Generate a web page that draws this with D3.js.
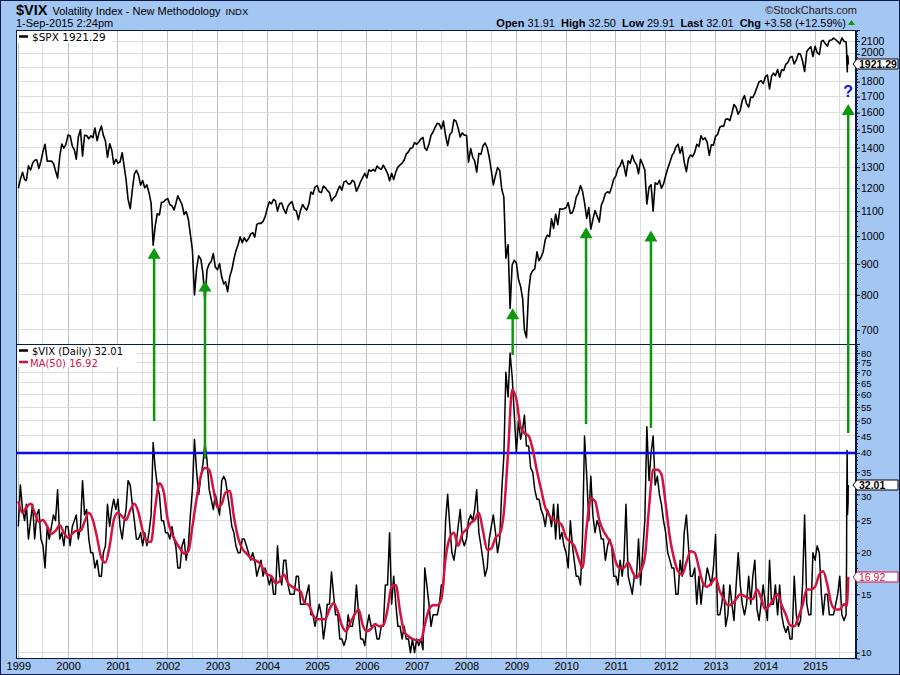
<!DOCTYPE html>
<html><head><meta charset="utf-8">
<script src="https://cdn.jsdelivr.net/npm/d3@7/dist/d3.min.js"></script>
<style>body{margin:0;background:#a3c6f2}svg{display:block}</style>
</head><body>
<svg id="c" width="900" height="675"></svg>
<script>
// ---------- DATA (semi-monthly: 1st & 16th of each month from Jan 1999) ----------
const spx = [
1200,1240,1275,1240,1236,1307,1286,1320,1335,1337,1294,1330,1380,1418,1330,1330,1331,1318,1282,1247,1354,1420,1397,1418,
1469,1465,1409,1388,1340,1458,1499,1356,1468,1466,1448,1465,1454,1509,1438,1484,1520,1467,1436,1350,1421,1389,1315,1340,
1320,1326,1373,1301,1241,1150,1110,1191,1266,1284,1260,1214,1236,1202,1215,1181,1134,966,1040,1089,1084,1138,1139,1148,
1154,1128,1122,1105,1131,1166,1146,1128,1086,1098,1067,1007,948,800,885,928,916,869,780,880,900,909,936,889,
880,901,856,834,841,810,858,880,916,946,968,998,975,994,980,990,1008,1014,996,1046,1050,1050,1058,1076,
1112,1140,1131,1150,1144,1100,1132,1134,1107,1090,1121,1133,1140,1106,1101,1065,1104,1128,1114,1104,1130,1183,1173,1205,
1212,1184,1181,1210,1203,1190,1180,1143,1156,1165,1191,1210,1191,1228,1234,1220,1220,1237,1228,1186,1207,1231,1249,1270,
1248,1287,1280,1289,1280,1305,1294,1289,1310,1292,1270,1235,1270,1240,1277,1300,1311,1320,1336,1366,1378,1397,1400,1427,
1418,1431,1448,1456,1399,1386,1420,1468,1486,1512,1536,1532,1503,1549,1465,1411,1473,1485,1557,1549,1508,1458,1481,1468,
1468,1325,1395,1350,1331,1276,1370,1365,1409,1425,1400,1350,1284,1215,1260,1298,1283,1195,1160,920,968,760,896,913,
903,850,826,789,700,680,811,865,877,883,942,911,923,941,987,1004,998,1068,1030,1087,1045,1110,1108,1110,
1115,1136,1090,1094,1115,1160,1178,1212,1187,1135,1070,1115,1027,1065,1102,1080,1055,1125,1146,1176,1184,1178,1206,1242,
1258,1293,1307,1336,1305,1257,1332,1319,1361,1329,1314,1268,1340,1316,1286,1130,1204,1216,1100,1225,1218,1237,1200,1219,
1258,1293,1324,1358,1374,1404,1419,1370,1405,1325,1278,1342,1362,1353,1375,1418,1406,1465,1444,1454,1427,1360,1416,1413,
1462,1472,1513,1520,1518,1560,1562,1552,1597,1650,1631,1590,1614,1676,1706,1655,1633,1697,1695,1721,1762,1798,1806,1786,
1832,1845,1750,1838,1859,1841,1885,1830,1883,1877,1924,1937,1973,1981,1925,1955,2003,1998,1946,1870,2018,2039,2054,1980,
2058,2010,1995,2096,2105,2081,2059,2106,2108,2123,2111,2096,2077,2125,2098,2092];
const vix = [
24,32,27,25,28,22,25,28,22,26,27,22,21,18,24,22,24,26,25,31,22,23,21,24,
24,21,24,25,26,22,24,33,26,27,22,20,20,18,19,17,17,20,21,28,24,27,29,27,
29,24,22,25,27,33,32,28,25,22,22,23,21,23,21,23,26,43,36,32,30,25,25,23,
23,22,24,22,21,18,18,21,22,19,21,26,31,44,35,30,34,37,43,38,31,29,27,30,
28,26,33,34,33,30,27,24,23,21,20,20,22,22,21,20,19,20,19,17,18,19,17,18,
17,16,17,15,15,21,17,16,19,19,16,15,15,15,17,17,14,14,14,15,16,13,13,12,
13,14,13,11,12,14,14,17.5,15,13,13,11,11,10.5,11,13,12,12,13,16,13,11,11,10.5,
12,13,12,12,12,11,11,12,12,16,16,23,14,17,14,12,12,11,12,11,11,10,11,10,
11,10.5,11,10.2,18,16,14,12,13,13,13,14,16,16,25,30,24,20,19,21,24,27,22,21,
22,25,26,25,27,31,23,21,19,17,18,22,24,26,23,20,22,31,39,70,59,80,68,53,
40,50,44,47,52,42,42,36,35,31,29,29,27,26,24,27,26,24,28,22,28,22,23,21,
20,18,25,21,19,17,17,16,22,45,34,25,34,26,23,25,24,22,22,19,21,22,21,17,
17,16,19,17,19,28,17,16,15,17,17,22,16,20,25,48,33,40,45,32,34,30,28,25,
23,20,19,18,18,15,15,19,17,23,26,21,17,17,18,14,17,14,16,16,18,17,16,18,
22.7,13,13,14,16,12,13,16,14,12.5,16,20,16,14,13,14,17,14,17,19,13.5,12.5,14,16,
14,12.5,19,14,14,16,13,16,13,12,11.5,12,11,11,17,13,12,12.5,16,26,14,13,13,20,
19,21,20,15,13,15,15,13,13,13,14,15,17,13,12.5,13];
// final days (daily)
const tailDates = ["2015-08-20","2015-08-21","2015-08-24","2015-08-25","2015-08-27","2015-08-31","2015-09-01"];
const spxTail = [2035,1971,1893,1868,1988,1972,1921.29];
const vixTail = [19.1,28.0,40.7,36.0,26.1,28.4,32.01];
// MA(50) monthly, 1st of month from Jan 1999 to Aug 2015
const ma50 = [
28.6,26.4,27.4,28.1,26.4,24.8,25.1,24.0,22.8,23.3,24.2,23.0,
22.2,22.8,23.3,23.3,24.8,26.4,25.1,22.2,19.3,18.7,21.0,25.1,
26.4,25.7,25.1,26.9,28.1,26.4,23.3,21.6,21.6,27.4,32.4,30.7,
25.1,22.8,21.6,20.6,19.9,20.2,24.0,29.2,34.2,36.0,35.6,31.2,
27.4,28.1,30.4,30.7,25.7,22.2,20.6,19.9,19.3,19.0,18.7,17.9,
17.2,17.0,16.2,16.4,17.2,16.2,15.8,15.5,15.3,14.1,13.9,13.0,
12.6,12.6,12.6,13.5,14.1,13.3,12.1,11.6,12.3,13.0,13.5,12.1,
11.6,11.8,12.2,12.0,12.1,13.5,15.8,16.0,13.3,11.6,11.2,11.0,
10.9,10.9,12.1,13.5,13.9,13.9,14.5,19.3,22.2,23.0,21.0,22.8,
23.5,24.6,25.1,26.4,23.3,20.4,20.6,22.2,22.8,26.4,40.0,62.0,
58.0,47.9,45.9,45.0,41.0,35.3,31.1,27.4,25.8,25.1,24.8,24.2,
22.2,21.6,21.0,19.3,18.0,24.0,29.2,28.6,25.1,23.3,22.2,21.0,
18.7,18.0,18.0,18.7,17.6,16.8,17.6,19.3,27.4,35.6,35.6,34.5,
28.1,22.2,19.3,17.6,17.2,18.7,20.2,20.0,18.0,16.2,15.8,16.2,
16.8,15.3,14.6,13.9,14.0,14.5,15.0,14.8,14.6,14.5,15.5,14.6,
13.5,13.9,14.5,15.0,13.9,13.0,12.1,12.0,12.8,13.9,15.5,15.5,
15.8,17.2,17.6,16.0,14.0,13.5,13.5,14.0];
const maTailDates = ["2015-08-21","2015-09-01"];
const maTail = [13.8,16.92];
const spxTicks = [700,800,900,1000,1100,1200,1300,1400,1500,1600,1700,1800,1900,2000,2100];
const spxTickLabels = [700,800,900,1000,1100,1200,1300,1400,1500,1600,1700,1800,2000,2100];
const vixTicks = [10,15,20,25,30,35,40,45,50,55,60,65,70,75,80];
const yearTicks = d3.range(1999,2016);
const arrowDates = ["2001-09-23","2002-10-01","2008-12-05","2010-05-27","2011-09-15","2015-09-01"];
const arrowTipSpx = [957,845,760,1035,1022,1653];
const arrowTailVix = [49.9,38.4,78.9,48.9,47.6,45.9];
const lastSpx = 1921.29, lastVix = 32.01, lastMa = 16.92, vixLevel = 40;

// ---------- LAYOUT ----------
const W=900,H=675,L=16,R=856,T1=30,B1=344,T2=344,B2=658.5;
const NAVY="#0a1a4a", GRID="#dcdcdc", GRIDY="#bdbdbd", GREEN="#0b990b", RED="#d4123f";
const FONT="Liberation Sans, Arial, sans-serif";
const parse=d3.timeParse("%Y-%m-%d");
const semi=i=>new Date(1999,Math.floor(i/2),i%2?16:1);
const spxData=spx.map((v,i)=>({d:semi(i),v})).concat(spxTail.map((v,i)=>({d:parse(tailDates[i]),v})));
const vixData=vix.map((v,i)=>({d:semi(i),v})).concat(vixTail.map((v,i)=>({d:parse(tailDates[i]),v})));
const maData=ma50.map((v,i)=>({d:new Date(1999,i,1),v})).concat(maTail.map((v,i)=>({d:parse(maTailDates[i]),v})));

const x=d3.scaleTime().domain([new Date(1998,11,15),new Date(2015,9,28)]).range([L,R]);
const y1=d3.scaleLog().domain([663.7,2190]).range([B1,T1]);
const y2=d3.scaleLog().domain([9.6,85.2]).range([B2,T2]);

const svg=d3.select("#c");
svg.append("rect").attr("width",W).attr("height",H).attr("fill","#a3c6f2");
svg.append("rect").attr("x",0.5).attr("y",0.5).attr("width",W-1).attr("height",H-1).attr("fill","none").attr("stroke",NAVY);
svg.append("rect").attr("x",L).attr("y",T1).attr("width",R-L).attr("height",B2-T1).attr("fill","#fff");

const defs=svg.append("defs");
defs.append("clipPath").attr("id","c1").append("rect").attr("x",L).attr("y",T1).attr("width",R-L).attr("height",B1-T1);
defs.append("clipPath").attr("id","c2").append("rect").attr("x",L).attr("y",T2).attr("width",R-L).attr("height",B2-T2);

// grid
const g=svg.append("g");
d3.timeMonth.every(6).range(new Date(1999,0,1),new Date(2015,9,1)).forEach(d=>{
  g.append("line").attr("x1",x(d)).attr("x2",x(d)).attr("y1",T1).attr("y2",B2)
   .attr("stroke",d.getMonth()===0?GRIDY:GRID).attr("stroke-width",1).attr("shape-rendering","crispEdges");
});
spxTicks.forEach(t=>g.append("line").attr("x1",L).attr("x2",R).attr("y1",y1(t)).attr("y2",y1(t)).attr("stroke",GRID).attr("shape-rendering","crispEdges"));
vixTicks.forEach(t=>g.append("line").attr("x1",L).attr("x2",R).attr("y1",y2(t)).attr("y2",y2(t)).attr("stroke",GRID).attr("shape-rendering","crispEdges"));

// series
const line1=d3.line().x(d=>x(d.d)).y(d=>y1(d.v));
const line2=d3.line().x(d=>x(d.d)).y(d=>y2(d.v));
svg.append("path").datum(spxData).attr("clip-path","url(#c1)").attr("d",line1).attr("fill","none").attr("stroke","#000").attr("stroke-width",1.6).attr("stroke-linejoin","round");
svg.append("path").datum(vixData).attr("clip-path","url(#c2)").attr("d",line2).attr("fill","none").attr("stroke","#000").attr("stroke-width",1.5).attr("stroke-linejoin","round");
svg.append("line").attr("x1",L).attr("x2",R).attr("y1",y2(vixLevel)).attr("y2",y2(vixLevel)).attr("stroke","#0a0af0").attr("stroke-width",2.5);
svg.append("path").datum(maData).attr("clip-path","url(#c2)").attr("d",line2.curve(d3.curveMonotoneX)).attr("fill","none").attr("stroke",RED).attr("stroke-width",2.5).attr("stroke-linejoin","round");

// frame
svg.append("rect").attr("x",L+0.5).attr("y",T1+0.5).attr("width",R-L-1).attr("height",B2-T1-0.5).attr("fill","none").attr("stroke",NAVY);
svg.append("line").attr("x1",L).attr("x2",R).attr("y1",B1+0.5).attr("y2",B1+0.5).attr("stroke",NAVY);

// arrows
arrowDates.forEach((ds,i)=>{
  const ax=x(parse(ds)), tip=y1(arrowTipSpx[i]), tail=y2(arrowTailVix[i]);
  svg.append("line").attr("x1",ax).attr("x2",ax).attr("y1",tail).attr("y2",tip+10).attr("stroke",GREEN).attr("stroke-width",2.5);
  svg.append("path").attr("d",`M${ax},${tip} L${ax+6.5},${tip+11} L${ax-6.5},${tip+11} Z`).attr("fill",GREEN);
});
svg.append("text").attr("x",x(parse(arrowDates[5]))).attr("y",y1(arrowTipSpx[5])-7).attr("text-anchor","middle")
  .attr("font-family",FONT).attr("font-weight","bold").attr("font-size",16).attr("fill","#1010f0").text("?");

// legends
const LF="DejaVu Sans, Verdana, sans-serif";
svg.append("rect").attr("x",L+1).attr("y",T1+1).attr("width",95).attr("height",12).attr("fill","#fff");
svg.append("line").attr("x1",19).attr("x2",28).attr("y1",36.5).attr("y2",36.5).attr("stroke","#000").attr("stroke-width",2.5);
svg.append("text").attr("x",32).attr("y",40.5).attr("font-family",LF).attr("font-size",10.5).attr("fill","#000").text("$SPX "+lastSpx.toFixed(2));
svg.append("rect").attr("x",L+1).attr("y",T2+1).attr("width",120).attr("height",22).attr("fill","#fff");
svg.append("line").attr("x1",19).attr("x2",28).attr("y1",350.5).attr("y2",350.5).attr("stroke","#000").attr("stroke-width",2.5);
svg.append("text").attr("x",32).attr("y",354.5).attr("font-family",LF).attr("font-size",10).attr("fill","#000").text("$VIX (Daily) "+lastVix.toFixed(2));
svg.append("line").attr("x1",19).attr("x2",28).attr("y1",362).attr("y2",362).attr("stroke",RED).attr("stroke-width",2.5);
svg.append("text").attr("x",30).attr("y",366.5).attr("font-family",LF).attr("font-size",10).attr("fill",RED).text("MA(50) "+lastMa.toFixed(2));

// right axes
function minor(scale,vals){
  vals.forEach(v=>svg.append("line").attr("x1",R).attr("x2",R+2).attr("y1",Math.round(scale(v))+0.5).attr("y2",Math.round(scale(v))+0.5).attr("stroke",NAVY));
}
minor(y1,d3.range(680,2200,20));
minor(y2,d3.range(10,86,1));
const ax1=svg.append("g").attr("transform",`translate(${R},0)`).call(d3.axisRight(y1).tickValues(spxTicks).tickFormat(d=>spxTickLabels.includes(d)?d3.format("d")(d):"").tickSize(4).tickPadding(1));
const ax2=svg.append("g").attr("transform",`translate(${R},0)`).call(d3.axisRight(y2).tickValues(vixTicks).tickFormat(d3.format("d")).tickSize(4).tickPadding(1));
[ax1,ax2].forEach(a=>{a.select(".domain").attr("stroke",NAVY);a.selectAll("line").attr("stroke",NAVY);
  a.selectAll("text").attr("font-family",FONT).attr("fill","#000");});
ax1.selectAll("text").attr("font-size",10.5);
ax2.selectAll("text").attr("font-size",9.5);
ax1.selectAll(".tick").filter(d=>d===2000).select("text").attr("dy","0.2em");
ax2.selectAll(".tick").filter(d=>d===30).select("text").attr("dy","0.55em");

function tag(yv,txt,col,bold){
  const yy=Math.round(yv);
  svg.append("path").attr("d",`M853,${yy} L857,${yy-5} L898,${yy-5} L898,${yy+5} L857,${yy+5} Z`).attr("fill","#fff").attr("stroke",col);
  svg.append("text").attr("x",859).attr("y",yy+4).attr("font-family",FONT).attr("font-size",10.5).attr("font-weight",bold?"bold":"normal").attr("fill",col).text(txt);
}
tag(y1(lastSpx),lastSpx.toFixed(2),"#000",true);
tag(y2(lastVix),lastVix.toFixed(2),"#000",true);
tag(y2(lastMa),lastMa.toFixed(2),RED,false);

// bottom axis
const axb=svg.append("g").attr("transform",`translate(0,${B2})`).call(d3.axisBottom(x).tickValues(yearTicks.map(yr=>new Date(yr,0,1))).tickFormat(d3.timeFormat("%Y")).tickSize(0).tickPadding(4));
axb.select(".domain").remove();
axb.selectAll("text").attr("font-family",FONT).attr("font-size",11).attr("fill","#000");

// header
const hd=svg.append("text").attr("x",16).attr("y",15).attr("font-family",FONT).attr("fill","#000");
hd.append("tspan").attr("font-weight","bold").attr("font-size",14.5).text("$VIX");
hd.append("tspan").attr("font-size",11).attr("dx",5).text("Volatility Index - New Methodology");
hd.append("tspan").attr("font-size",9.5).attr("dx",5).text("INDX");
svg.append("text").attr("x",16).attr("y",27).attr("font-family",FONT).attr("font-size",11).text("1-Sep-2015 2:24pm");
svg.append("text").attr("x",857).attr("y",14).attr("text-anchor","end").attr("font-family",FONT).attr("font-size",11).attr("fill","#222").text("\u00A9StockCharts.com");
const q=svg.append("text").attr("x",846).attr("y",27).attr("text-anchor","end").attr("font-family",FONT).attr("font-size",11).attr("fill","#000");
[["Open","31.91"],["High","32.50"],["Low","29.91"],["Last","32.01"],["Chg","+3.58 (+12.59%)"]].forEach((p,i)=>{
  q.append("tspan").attr("font-weight","bold").attr("dx",i?6:0).text(p[0]);
  q.append("tspan").attr("dx",3).text(p[1]);
});
svg.append("path").attr("d","M848,25 L851.5,20 L855,25 Z").attr("fill",GREEN);
</script>
</body></html>
